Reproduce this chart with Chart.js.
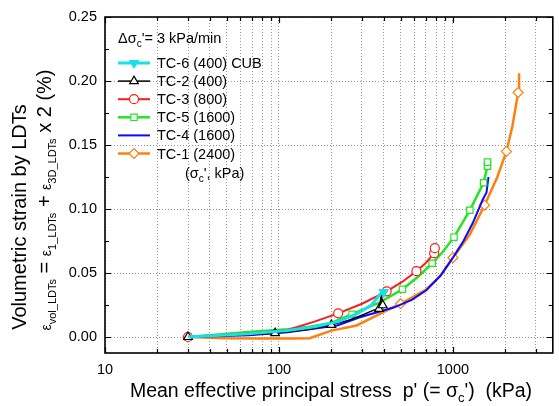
<!DOCTYPE html>
<html>
<head>
<meta charset="utf-8">
<script src="https://cdn.jsdelivr.net/npm/chart.js@4.4.0/dist/chart.umd.min.js"></script>
<style>
  html, body { margin: 0; padding: 0; background: #fff; }
  canvas { display: block; }
</style>
</head>
<body>
<canvas id="chart" width="559" height="406"></canvas>
<script>
// values (p' in kPa, volumetric strain in %)
const tc6X = [30, 67, 112, 160, 219, 280, 340, 385, 400];
const tc6Y = [0, 0.0025, 0.005, 0.008, 0.012, 0.018, 0.025, 0.034, 0.035];
const tc6Mk = [8];

const tc2X = [30, 67, 95, 150, 200, 250, 300, 350, 376, 388, 395, 400];
const tc2Y = [0, 0.0018, 0.003, 0.006, 0.0095, 0.013, 0.017, 0.021, 0.022, 0.033, 0.0248, 0.027];
const tc2Mk = [0, 2, 4, 8, 10];

const tc3X = [30, 67, 112, 160, 219, 300, 416, 510, 617, 700, 780, 787];
const tc3Y = [0, 0.003, 0.0055, 0.012, 0.0185, 0.026, 0.0357, 0.043, 0.0514, 0.058, 0.0655, 0.0694];
const tc3Mk = [0, 4, 6, 8, 10, 11];

const tc5X = [30, 67, 112, 150, 200, 263, 380, 513, 630, 760, 880, 1014, 1250, 1500, 1580, 1580];
const tc5Y = [0, 0.004, 0.006, 0.008, 0.011, 0.0178, 0.027, 0.0373, 0.047, 0.0576, 0.067, 0.078, 0.099, 0.1205, 0.1335, 0.1366];
const tc5Mk = [0, 5, 7, 9, 11, 12, 13, 14, 15];

const tc4X = [30, 67, 112, 216, 292, 456, 580, 703, 850, 1000, 1150, 1300, 1480, 1560, 1600];
const tc4Y = [0, 0.0013, 0.0037, 0.009, 0.0154, 0.023, 0.029, 0.0365, 0.048, 0.062, 0.075, 0.089, 0.107, 0.113, 0.125];
const tc4Mk = [];

const tc1X = [30, 50, 80, 120, 150, 200, 280, 380, 500, 700, 850, 1000, 1250, 1520, 1800, 2030, 2200, 2370, 2400, 2400];
const tc1Y = [0, -0.001, -0.0012, -0.0012, -0.001, 0.005, 0.009, 0.018, 0.026, 0.037, 0.048, 0.062, 0.080, 0.103, 0.125, 0.145, 0.165, 0.191, 0.191, 0.206];
const tc1Mk = [0, 8, 11, 13, 15, 17];

const xTicks = [10, 20, 30, 40, 50, 60, 70, 80, 90, 100, 200, 300, 400, 500, 600, 700, 800, 900, 1000, 2000, 3000];
const xLabels = [10, 100, 1000];
const yTicks = [0, 0.05, 0.10, 0.15, 0.20, 0.25];
const yMinor = [0.025, 0.075, 0.125, 0.175, 0.225];

const FONT = 'Arial, "Liberation Sans", sans-serif';

function series(label, xs, ys, mk, color, width, style, opts) {
  opts = opts || {};
  return {
    label: label,
    data: xs.map((x, i) => ({ x: x, y: ys[i] })),
    showLine: true,
    borderColor: color,
    borderWidth: width,
    backgroundColor: color,
    pointStyle: style,
    pointRotation: opts.rot || 0,
    pointRadius: xs.map((_, i) => mk.includes(i) ? (opts.r || 4.5) : 0),
    pointBorderColor: color,
    pointBackgroundColor: opts.fill ? color : '#fff',
    pointBorderWidth: 1.2,
    pointHoverRadius: 0,
    tension: 0
  };
}

const datasets = [
  series('TC-6 (400) CUB', tc6X, tc6Y, tc6Mk, '#19e0e6', 3, 'triangle', { rot: 180, fill: true, r: 5 }),
  series('TC-2 (400)', tc2X, tc2Y, tc2Mk, '#000000', 1.5, 'triangle', { r: 5 }),
  series('TC-3 (800)', tc3X, tc3Y, tc3Mk, '#ff1a1a', 2, 'circle'),
  series('TC-5 (1600)', tc5X, tc5Y, tc5Mk, '#22e622', 2.5, 'rect'),
  series('TC-4 (1600)', tc4X, tc4Y, tc4Mk, '#0a0aff', 2, false),
  series('TC-1 (2400)', tc1X, tc1Y, tc1Mk, '#ff8010', 2.5, 'rectRot', { r: 5 })
];

// draw a run of text pieces, some lowered as subscripts
function rich(ctx, segs, x, y, align) {
  let w = 0;
  segs.forEach(s => { ctx.font = s.f + 'px ' + FONT; w += ctx.measureText(s.t).width; });
  let cx = align === 'center' ? x - w / 2 : x;
  ctx.textAlign = 'left';
  ctx.textBaseline = 'alphabetic';
  segs.forEach(s => {
    ctx.font = s.f + 'px ' + FONT;
    ctx.fillText(s.t, cx, y + (s.dy || 0));
    cx += ctx.measureText(s.t).width;
  });
}

function marker(ctx, ds, x, y) {
  if (!ds.pointStyle) return;
  ctx.save();
  ctx.fillStyle = ds.pointBackgroundColor;
  ctx.strokeStyle = ds.pointBorderColor;
  ctx.lineWidth = ds.pointBorderWidth;
  const r = Math.max.apply(null, ds.pointRadius);
  Chart.helpers.drawPoint(ctx, { pointStyle: ds.pointStyle, rotation: ds.pointRotation, radius: r, borderWidth: ds.pointBorderWidth }, x, y);
  ctx.restore();
}

const decor = {
  id: 'decor',
  afterDatasetsDraw(chart) {
    const ctx = chart.ctx;
    const a = chart.chartArea;
    const xs = chart.scales.x, ys = chart.scales.y;
    ctx.save();
    ctx.strokeStyle = '#000';
    // inward ticks
    ctx.lineWidth = 1.2;
    ctx.beginPath();
    xTicks.forEach(v => {
      const px = Math.round(xs.getPixelForValue(v)) + 0.5;
      const len = xLabels.includes(v) ? 6 : 4;
      ctx.moveTo(px, a.bottom); ctx.lineTo(px, a.bottom - len);
      ctx.moveTo(px, a.top); ctx.lineTo(px, a.top + len);
    });
    yTicks.forEach(v => {
      const py = Math.round(ys.getPixelForValue(v)) + 0.5;
      ctx.moveTo(a.left, py); ctx.lineTo(a.left + 6, py);
      ctx.moveTo(a.right, py); ctx.lineTo(a.right - 6, py);
    });
    yMinor.forEach(v => {
      const py = Math.round(ys.getPixelForValue(v)) + 0.5;
      ctx.moveTo(a.left, py); ctx.lineTo(a.left + 4, py);
      ctx.moveTo(a.right, py); ctx.lineTo(a.right - 4, py);
    });
    ctx.stroke();
    // frame
    ctx.lineWidth = 1.6;
    ctx.strokeRect(a.left, a.top, a.right - a.left, a.bottom - a.top);

    // legend
    ctx.fillStyle = '#000';
    rich(ctx, [{ t: 'Δσ', f: 14.5 }, { t: 'c', f: 10, dy: 4 }, { t: "'= 3 kPa/min", f: 14.5 }], 118, 43);
    chart.data.datasets.forEach((ds, i) => {
      const cy = 63 + i * 18.1;
      ctx.save();
      ctx.strokeStyle = ds.borderColor;
      ctx.lineWidth = ds.borderWidth;
      ctx.beginPath();
      ctx.moveTo(118, cy); ctx.lineTo(150, cy);
      ctx.stroke();
      ctx.restore();
      marker(ctx, ds, 134, cy);
      ctx.fillStyle = '#000';
      rich(ctx, [{ t: ds.label, f: 14.5 }], 157, cy + 5);
    });
    rich(ctx, [{ t: '(σ', f: 14.5 }, { t: 'c', f: 10, dy: 4 }, { t: "', kPa)", f: 14.5 }], 185, 178);

    // axis titles
    rich(ctx, [
      { t: "Mean effective principal stress  p' (= σ", f: 19.5 },
      { t: 'c', f: 13, dy: 5 },
      { t: "')  (kPa)", f: 19.5 }
    ], 331, 397, 'center');

    ctx.save();
    ctx.translate(26, 217);
    ctx.rotate(-Math.PI / 2);
    rich(ctx, [{ t: 'Volumetric strain by LDTs', f: 20 }], 0, 0, 'center');
    ctx.restore();

    ctx.save();
    ctx.translate(51, 200);
    ctx.rotate(-Math.PI / 2);
    rich(ctx, [
      { t: 'ε', f: 14 }, { t: 'vol_LDTs', f: 11, dy: 5 },
      { t: ' = ', f: 20 },
      { t: 'ε', f: 14 }, { t: '1_LDTs', f: 11, dy: 5 },
      { t: ' + ', f: 20 },
      { t: 'ε', f: 14 }, { t: '3D_LDTs', f: 11, dy: 5 },
      { t: ' x 2 (%)', f: 20 }
    ], 0, 0, 'center');
    ctx.restore();
    ctx.restore();
  }
};

new Chart(document.getElementById('chart'), {
  type: 'scatter',
  data: { datasets: datasets },
  plugins: [decor],
  options: {
    responsive: false,
    animation: false,
    devicePixelRatio: 1,
    layout: { padding: { top: 17, right: 1, bottom: 0, left: 0 } },
    plugins: { legend: { display: false }, tooltip: { enabled: false } },
    scales: {
      x: {
        type: 'logarithmic',
        min: 10,
        max: 3750,
        afterBuildTicks: s => { s.ticks = xTicks.map(v => ({ value: v })); },
        afterFit: s => { s.height = 53; },
        ticks: {
          autoSkip: false,
          maxRotation: 0,
          padding: 8,
          color: '#000',
          font: { family: FONT, size: 14.5 },
          callback: v => xLabels.includes(v) ? String(v) : ''
        },
        grid: { color: 'rgba(140,140,140,0.9)', lineWidth: 1, drawTicks: false },
        border: { display: false, dash: [1, 2] }
      },
      y: {
        min: -0.0125,
        max: 0.25,
        afterBuildTicks: s => { s.ticks = yTicks.map(v => ({ value: v })); },
        afterFit: s => { s.width = 105; },
        ticks: {
          padding: 8,
          color: '#000',
          font: { family: FONT, size: 14.5 },
          callback: v => v.toFixed(2)
        },
        grid: { color: 'rgba(140,140,140,0.9)', lineWidth: 1, drawTicks: false },
        border: { display: false, dash: [1, 2] }
      }
    }
  }
});
</script>
</body>
</html>
